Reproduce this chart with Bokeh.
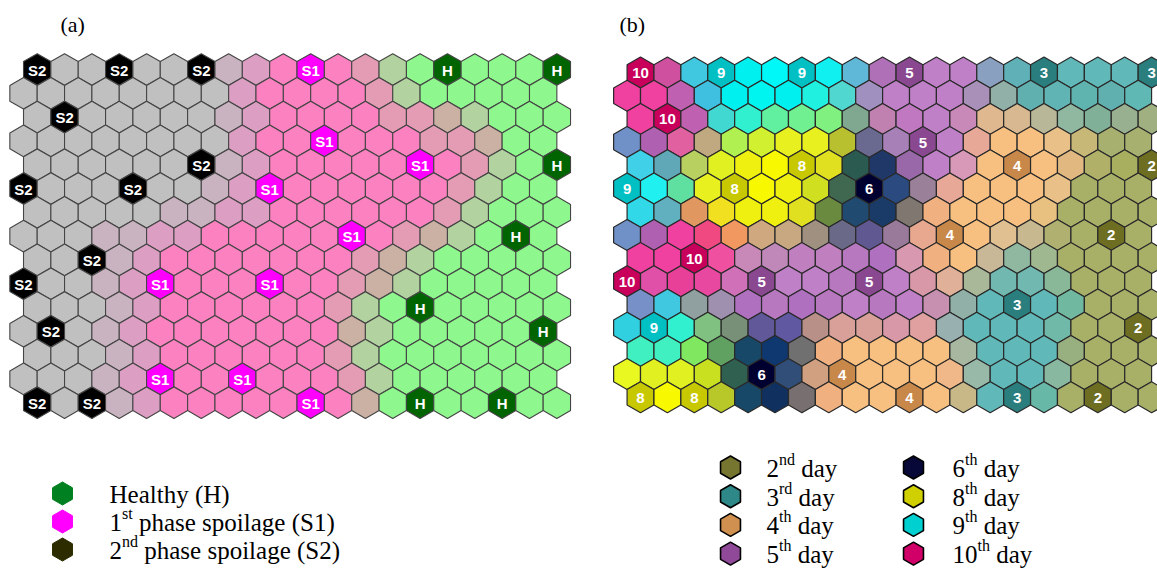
import math
from bokeh.plotting import figure
from bokeh.models import Range1d
from bokeh.core.properties import value
from bokeh.embed import file_html
from bokeh.resources import INLINE

# ---------------- map (a): quality classes on a 15 x 20 hexagonal SOM ----------------
# g grey, x grey-mauve, y mauve-pink, p pink, q muted pink, r brownish, s grey-green,
# G green; A = S2 node, B = S1 node, C = H node
class_rows_a = [
    "AggAggAxypBpqsGCGGGC",
    "ggggggggyppppqsGGGGG",
    "gAgggggxyppppqqrsGGG",
    "ggggggggyppBpppqqrGG",
    "ggggggAxypppppBpqsGC",
    "AgggAggxyBppppppqsGG",
    "gggggxxyyppppppqsGGG",
    "gggxxyypppppBpqrsGCG",
    "ggAxypppppppqrsGGGGG",
    "AggxyBpppBppqrsGGGGG",
    "gggxyppppppqsGCGGGGG",
    "gAgxyppppppprsGGGGGC",
    "gggxyppppppqsGGGGGGG",
    "gggxyBppBpppqsGGGGGG",
    "AgAxypppppBprGCGGCGG",
]
class_colors_a = {
    "g": "#c0c0c0", "x": "#c9b3c0", "y": "#dc9fc3", "p": "#fc81c0",
    "q": "#e39cb4", "r": "#cbb0a4", "s": "#b2d3a0", "G": "#8ef88e",
    "A": "#000000", "B": "#ff00ff", "C": "#006400",
}
class_labels_a = {"A": "S2", "B": "S1", "C": "H"}

# ---------------- map (b): storage day on the same SOM ----------------
day_colors = {2: "#6e6e22", 3: "#2a7e7e", 4: "#c8884a", 5: "#8a4890",
              6: "#000030", 8: "#c8c800", 9: "#00c0c4", 10: "#c8005c"}

# (row, column, day) of the nodes carrying a day label
day_nodes_b = [
    (0, 0, 10), (0, 3, 9), (0, 6, 9), (0, 10, 5), (0, 15, 3), (0, 19, 3),
    (2, 1, 10), (3, 11, 5), (4, 6, 8), (4, 14, 4), (4, 19, 2),
    (5, 0, 9), (5, 4, 8), (5, 9, 6), (7, 12, 4), (7, 18, 2),
    (8, 2, 10), (9, 0, 10), (9, 5, 5), (9, 9, 5), (10, 14, 3),
    (11, 1, 9), (11, 19, 2), (13, 5, 6), (13, 8, 4),
    (14, 0, 8), (14, 2, 8), (14, 10, 4), (14, 14, 3), (14, 17, 2),
]

# node colours of map (b); None marks a labelled node (coloured by its day)
colors_b = [
    [None, "#d050a0", "#40c8e0", None, "#00f0f0", "#00f8f8", None, "#10f0f0", "#60b8d8", "#b070b8",
     None, "#c080c8", "#c080c8", "#8aa0c0", "#60b0b8", None, "#60b8b8", "#60b8b8", "#60b8b8", None],
    ["#f040a0", "#f040a0", "#c060b0", "#40c0e0", "#00f0f0", "#00f4f0", "#00f0f0", "#20f0e0", "#50d8d0", "#a090c0",
     "#c080c8", "#c080c8", "#c080c8", "#a890b8", "#90b0a8", "#60b0b0", "#60b4b4", "#60b4b0", "#60b0b0", "#60b8b4"],
    ["#f040a0", None, "#c060b0", "#40d8d0", "#30f0d0", "#60f0a0", "#70f090", "#80f080", "#80a890", "#c080b0",
     "#c078c0", "#c080c8", "#c888b8", "#e0b890", "#d8b890", "#b8b898", "#90b8a0", "#80b098", "#98b090", "#a0b080"],
    ["#7090c8", "#b060b0", "#e060a0", "#c0a880", "#b0f050", "#d0f030", "#e8f020", "#e8f020", "#b8c030", "#6a6a90",
     "#a880b8", None, "#c080c8", "#e8a898", "#f8c080", "#f8c080", "#e8c088", "#c8b878", "#a8b070", "#a8b070"],
    ["#40d0e8", "#60a8b8", "#b8d060", "#e0f020", "#f0f010", "#f8f800", None, "#e0e020", "#2a5a50", "#203868",
     "#9868a8", "#c080c8", "#d898b8", "#f8c080", None, "#f8c080", "#e0b880", "#b0b068", "#a8b060", None],
    [None, "#20f0f0", "#60e0a0", "#e8f020", None, "#f8f800", "#f0f010", "#d0e020", "#406850", None,
     "#2a4a80", "#9a8098", "#e8a898", "#f8c080", "#f8c080", "#f8c080", "#e8c088", "#a8b068", "#a8b068", "#a8b068"],
    ["#30d8e8", "#60b0c0", "#e09860", "#f0e020", "#f0f010", "#f0f010", "#e0e020", "#6a8a40", "#204a70", "#1a3a68",
     "#807870", "#f0b080", "#f8c080", "#f8c080", "#f8c080", "#e8c080", "#a8b068", "#a8b068", "#a8b068", "#a8b068"],
    ["#7090c8", "#b060b0", "#f040a0", "#f04880", "#f09860", "#d0a880", "#c8a880", "#a09080", "#6a6a88", "#605890",
     "#9a7a9a", "#e8a890", None, "#f8c080", "#e0c090", "#c8b890", "#b0b070", "#a8b068", None, "#a8b068"],
    ["#f040a0", "#f040a0", None, "#f050a0", "#c888b8", "#c088b8", "#c080c0", "#c080c0", "#b878c0", "#b070c0",
     "#d898b0", "#f0b080", "#f8c080", "#c8b898", "#90b8a0", "#a0b890", "#a8b068", "#a8b068", "#a8b068", "#a8b068"],
    [None, "#e050a8", "#e84098", "#e848a0", "#d070b8", None, "#c080c8", "#c080c8", "#b878c0", None,
     "#c080c8", "#d898a8", "#e0b098", "#a8b898", "#70b8b0", "#70b8b0", "#88b898", "#a8b068", "#a8b068", "#a8b068"],
    ["#7890c8", "#40c8e0", "#90a0a0", "#a090b0", "#b070c0", "#b878c0", "#b070c0", "#b878c0", "#c080c8", "#b878c0",
     "#c080c8", "#c890b0", "#90b0a8", "#60b8b8", None, "#60b8b8", "#70b8a0", "#a8b068", "#a8b068", "#a8b068"],
    ["#30d0e0", None, "#30f0d0", "#80c080", "#789078", "#605898", "#6058a0", "#b89088", "#d8a098", "#d8a098",
     "#d898a8", "#e0a0a0", "#98b0b0", "#60b8b8", "#60b8b8", "#60b8b8", "#70b8a8", "#a8b068", "#a8b068", None],
    ["#40f0c0", "#40f0c0", "#80e860", "#60a060", "#184868", "#103870", "#707070", "#f0b080", "#f8c080", "#f8c080",
     "#f8c080", "#f8c080", "#a8b8a0", "#60b8b8", "#60b8b8", "#60b8b8", "#98b080", "#a8b068", "#a8b068", "#a8b068"],
    ["#e8f820", "#e0f020", "#e0f020", "#c8e020", "#306050", None, "#304e78", "#d0a080", None, "#f8c080",
     "#f8c080", "#f8c080", "#f0b888", "#98b8a8", "#60b8b8", "#60b8b8", "#88b8a0", "#a8b068", "#a8b068", "#a8b068"],
    [None, "#f8f800", None, "#b8c828", "#184868", "#103060", "#787070", "#f0b080", "#f8c080", "#f8c080",
     None, "#f8c080", "#c8b888", "#60b8b8", None, "#68b8a8", "#a8b068", None, "#a8b068", "#a8b068"],
]

# legends
legend_a = [("#008020", "Healthy (H)", "", ""),
            ("#ff00ff", "1", "st", "phase spoilage (S1)"),
            ("#2c2c00", "2", "nd", "phase spoilage (S2)")]
legend_b_days = [2, 3, 4, 5, 6, 8, 9, 10]
legend_b_suffix = {2: "nd", 3: "rd", 4: "th", 5: "th", 6: "th", 8: "th", 9: "th", 10: "th"}
legend_b_colors = {2: "#767630", 3: "#2e8888", 4: "#d09050", 5: "#904898",
                   6: "#080838", 8: "#d0d000", 9: "#00d0d0", 10: "#d00068"}

W, H = 1157, 570
p = figure(width=W, height=H, x_range=Range1d(0, W), y_range=Range1d(H, 0),
           output_backend="svg", toolbar_location=None, min_border=0,
           x_axis_location=None, y_axis_location=None)
p.grid.visible = False
p.outline_line_color = None
p.background_fill_color = "white"
p.border_fill_color = "white"


def hexagon(cx, cy, r):
    xs = [cx + r * math.cos(math.radians(30 + 60 * k)) for k in range(6)]
    ys = [cy + r * math.sin(math.radians(30 + 60 * k)) for k in range(6)]
    return xs, ys


def grid_center(row, col, x0, dx, y0, dy):
    # even rows sit half a node to the right of odd rows
    x = x0 + dx * col - (dx / 2 if row % 2 else 0)
    return x, y0 + dy * row


# ---- draw map (a)
A_X0, A_DX, A_Y0, A_DY, A_R = 36.7, 27.35, 69.0, 23.8, 15.8
xs, ys, fills, lx, ly, lt = [], [], [], [], [], []
for r, line in enumerate(class_rows_a):
    for c, code in enumerate(line):
        cx, cy = grid_center(r, c, A_X0, A_DX, A_Y0, A_DY)
        hx, hy = hexagon(cx, cy, A_R)
        xs.append(hx); ys.append(hy); fills.append(class_colors_a[code])
        if code in class_labels_a:
            lx.append(cx); ly.append(cy + 0.5); lt.append(class_labels_a[code])
p.patches(xs, ys, fill_color=fills, line_color="#454545", line_width=1.1)
p.text(lx, ly, text=lt, text_align="center", text_baseline="middle",
       text_font=value("Liberation Sans"), text_font_style="bold",
       text_font_size="15px", text_color="white")

# ---- draw map (b)
B_X0, B_DX, B_Y0, B_DY, B_R = 640.0, 26.9, 72.0, 23.2, 15.5
day_at = {(r, c): d for r, c, d in day_nodes_b}
xs, ys, fills, lx, ly, lt = [], [], [], [], [], []
for r, line in enumerate(colors_b):
    for c, col in enumerate(line):
        cx, cy = grid_center(r, c, B_X0, B_DX, B_Y0, B_DY)
        hx, hy = hexagon(cx, cy, B_R)
        d = day_at.get((r, c))
        xs.append(hx); ys.append(hy)
        fills.append(day_colors[d] if d is not None else col)
        if d is not None:
            lx.append(cx); ly.append(cy + 0.5); lt.append(str(d))
p.patches(xs, ys, fill_color=fills, line_color="#2a2a2a", line_width=1.2)
p.text(lx, ly, text=lt, text_align="center", text_baseline="middle",
       text_font=value("Liberation Sans"), text_font_style="bold",
       text_font_size="15px", text_color="white")

# ---- panel tags
p.text([60, 619], [24, 24], text=["(a)", "(b)"], text_font=value("Liberation Serif"),
       text_font_size="22px", text_color="black", text_baseline="middle")

# Times-compatible advance widths (em) for the superscript layout
ADV = {"0": .5, "1": .5, "2": .5, "3": .5, "4": .5, "5": .5, "6": .5, "8": .5, "9": .5,
       "s": .389, "t": .278, "n": .5, "d": .5, "r": .333, "h": .5}
BASE, SUP = 25, 16
SPACE = 0.25 * BASE


def width(s, size):
    return sum(ADV.get(ch, .5) for ch in s) * size


def legend_entry(mx, my, color, tx, base, sup, rest, outline):
    hx, hy = hexagon(mx, my, 11.5)
    p.patch(hx, hy, fill_color=color, line_color="black" if outline else color,
            line_width=1.6 if outline else 1)
    ty = my + 1
    font = value("Liberation Serif")
    p.text([tx], [ty], text=[base], text_font=font, text_font_size=f"{BASE}px",
           text_baseline="middle", text_color="black")
    if sup:
        x = tx + width(base, BASE)
        p.text([x], [ty - 9], text=[sup], text_font=font, text_font_size=f"{SUP}px",
               text_baseline="middle", text_color="black")
        x += width(sup, SUP) + SPACE
        p.text([x], [ty], text=[rest], text_font=font, text_font_size=f"{BASE}px",
               text_baseline="middle", text_color="black")


for i, (col, base, sup, rest) in enumerate(legend_a):
    legend_entry(62, 493 + 28 * i, col, 109, base, sup, rest, False)

for i, d in enumerate(legend_b_days):
    colx = i // 4
    row = i % 4
    mx = 730 if colx == 0 else 913
    tx = 766 if colx == 0 else 952
    legend_entry(mx, 467 + 28.7 * row, legend_b_colors[d], tx, str(d),
                 legend_b_suffix[d], "day", True)

open("out.html", "w").write(file_html(p, INLINE))
